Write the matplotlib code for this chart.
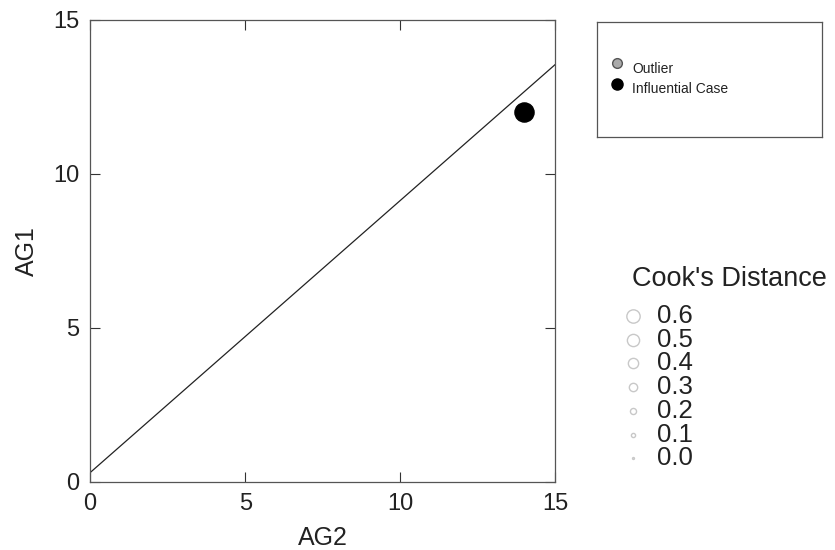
import matplotlib
matplotlib.use("Agg")
import matplotlib.pyplot as plt
from matplotlib.lines import Line2D
import numpy as np

plt.rcParams['font.family'] = ['Liberation Sans', 'DejaVu Sans']

# Data
fit_x = [0, 15]
fit_y = [0.3, 13.55]
case_x = [14]
case_y = [12]
cook_levels = ["0.6", "0.5", "0.4", "0.3", "0.2", "0.1", "0.0"]
cook_sizes = [9.6, 8.8, 7.4, 6.0, 4.4, 3.0, 1.4]
ticks = [0, 5, 10, 15]

fig = plt.figure(figsize=(8.35, 5.5), dpi=100)
ax = fig.add_axes([0.108, 0.124, 0.557, 0.840])
ax.plot(fit_x, fit_y, color='#222222', lw=0.9)
ax.scatter(case_x, case_y, s=190, color='black', zorder=3)
ax.set_xlim(0, 15)
ax.set_ylim(0, 15)
ax.set_xticks(ticks)
ax.set_yticks(ticks)
ax.tick_params(direction='in', top=True, right=True, labelsize=17, length=7, width=0.8,
               colors='#333333', labelcolor='#222222')
ax.tick_params(axis='x', pad=8)
ax.tick_params(axis='y', pad=8)
for s in ax.spines.values():
    s.set_color('#555555')
    s.set_linewidth(0.9)
ax.set_xlabel('AG2', fontsize=18, color='#222222', labelpad=8)
ax.set_ylabel('AG1', fontsize=18, color='#222222', labelpad=10)

# Legend box
lax = fig.add_axes([0.715, 0.751, 0.270, 0.209])
lax.set_xlim(0, 1); lax.set_ylim(0, 1)
lax.set_xticks([]); lax.set_yticks([])
for s in lax.spines.values():
    s.set_color('#555555')
    s.set_linewidth(0.9)
lax.plot([0.09], [0.64], 'o', ms=7, mfc='#aaaaaa', mec='#555555', mew=1)
lax.text(0.155, 0.595, 'Outlier', fontsize=10, va='center', color='#222222')
lax.plot([0.09], [0.46], 'o', ms=8, mfc='black', mec='black')
lax.text(0.155, 0.415, 'Influential Case', fontsize=10, va='center', color='#222222')

# Cook's distance legend (figure coordinates)
W, H = 835.0, 550.0
fig.text(632 / W, 1 - 279 / H, "Cook's Distance", fontsize=19.5, color='#222222', va='center')
y0, step = 316.0, 23.7
for i, (lab, ms) in enumerate(zip(cook_levels, cook_sizes)):
    yy = 1 - (y0 + i * step) / H
    fig.add_artist(Line2D([633 / W], [yy], transform=fig.transFigure, ls='none', marker='o',
                          ms=ms, mfc='white', mec='#c8c8c8', mew=1))
    fig.text(657 / W, yy, lab, fontsize=18.5, color='#222222', va='center')

fig.savefig('out.png', dpi=100, facecolor='white')
